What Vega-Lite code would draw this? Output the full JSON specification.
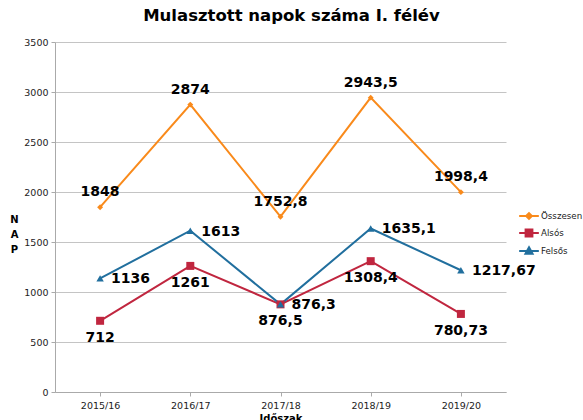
{
  "$schema": "https://vega.github.io/schema/vega-lite/v6.json",
  "width": 451,
  "height": 350,
  "autosize": {"type": "none"},
  "padding": {"left": 55, "top": 42, "right": 77, "bottom": 28},
  "background": "white",
  "config": {
    "view": {"stroke": null},
    "locale": {"number": {"decimal": ",", "thousands": "", "grouping": [3], "currency": ["", ""]}},
    "font": "DejaVu Sans"
  },
  "title": {
    "text": "Mulasztott napok száma I. félév",
    "font": "DejaVu Sans",
    "fontSize": 16.5,
    "fontWeight": "bold",
    "color": "#000000",
    "anchor": "middle",
    "dx": 11,
    "offset": 13
  },
  "data": {
    "values": [
      {"period": "2015/16", "series": "Összesen", "value": 1848},
      {"period": "2016/17", "series": "Összesen", "value": 2874},
      {"period": "2017/18", "series": "Összesen", "value": 1752.8},
      {"period": "2018/19", "series": "Összesen", "value": 2943.5},
      {"period": "2019/20", "series": "Összesen", "value": 1998.4},
      {"period": "2015/16", "series": "Alsós", "value": 712},
      {"period": "2016/17", "series": "Alsós", "value": 1261},
      {"period": "2017/18", "series": "Alsós", "value": 876.5},
      {"period": "2018/19", "series": "Alsós", "value": 1308.4},
      {"period": "2019/20", "series": "Alsós", "value": 780.73},
      {"period": "2015/16", "series": "Felsős", "value": 1136},
      {"period": "2016/17", "series": "Felsős", "value": 1613},
      {"period": "2017/18", "series": "Felsős", "value": 876.3},
      {"period": "2018/19", "series": "Felsős", "value": 1635.1},
      {"period": "2019/20", "series": "Felsős", "value": 1217.67}
    ]
  },
  "encoding": {
    "x": {
      "field": "period",
      "type": "nominal",
      "sort": null,
      "scale": {"paddingInner": 0, "paddingOuter": 0},
      "axis": {
        "title": "Időszak",
        "titleFont": "DejaVu Sans",
        "titleFontSize": 10,
        "titleFontWeight": "bold",
        "titleColor": "#000000",
        "titlePadding": 4,
        "labelAngle": 0,
        "labelFont": "DejaVu Sans",
        "labelFontSize": 9.5,
        "labelColor": "#222222",
        "labelPadding": 4,
        "bandPosition": 0,
        "tickSize": 4,
        "tickColor": "#aaaaaa",
        "domainColor": "#aaaaaa",
        "grid": false
      }
    },
    "y": {
      "field": "value",
      "type": "quantitative",
      "scale": {"domain": [0, 3500], "nice": false},
      "axis": {
        "values": [0, 500, 1000, 1500, 2000, 2500, 3000, 3500],
        "format": "d",
        "title": ["N", "A", "P"],
        "titleAngle": 0,
        "titleFont": "DejaVu Sans",
        "titleFontSize": 10,
        "titleFontWeight": "bold",
        "titleColor": "#000000",
        "titleLineHeight": 15,
        "titleX": -41,
        "titleY": 177,
        "titleAlign": "center",
        "titleBaseline": "middle",
        "labelFont": "DejaVu Sans",
        "labelFontSize": 9.5,
        "labelColor": "#222222",
        "labelPadding": 3,
        "tickSize": 4,
        "tickColor": "#aaaaaa",
        "domainColor": "#aaaaaa",
        "gridColor": "#c4c4c4",
        "gridWidth": 1
      }
    },
    "color": {
      "field": "series",
      "type": "nominal",
      "scale": {"domain": ["Összesen", "Alsós", "Felsős"], "range": ["#F98A1B", "#C0263F", "#216F9E"]},
      "legend": {
        "orient": "none",
        "legendX": 464,
        "legendY": 164,
        "title": null,
        "padding": 0,
        "symbolType": "M-1,0H1",
        "symbolSize": 320,
        "symbolStrokeWidth": 2,
        "labelFont": "DejaVu Sans",
        "labelFontSize": 8.7,
        "labelColor": "#222222",
        "labelOffset": 2,
        "rowPadding": 0,
        "encode": {
          "symbols": {
            "update": {
              "shape": {"signal": "datum.value === 'Összesen' ? 'M-1.1,0H1.1M-0.32,0L0,-0.32L0.32,0L0,0.32Z' : (datum.value === 'Alsós' ? 'M-1.1,0H1.1M-0.38,-0.38H0.38V0.38H-0.38Z' : 'M-1.1,0H1.1M0,-0.42L0.4,0.32H-0.4Z')"},
              "fill": {"signal": "scale('color', datum.value)"},
              "stroke": {"signal": "scale('color', datum.value)"},
              "strokeWidth": {"value": 2},
              "opacity": {"value": 1},
              "fillOpacity": {"value": 1}
            }
          }
        }
      }
    }
  },
  "layer": [
    {
      "mark": {"type": "line", "strokeWidth": 2}
    },
    {
      "transform": [{"filter": "datum.series === 'Összesen'"}],
      "mark": {"type": "point", "filled": true, "opacity": 1, "shape": "diamond", "size": 35}
    },
    {
      "transform": [{"filter": "datum.series === 'Alsós'"}],
      "mark": {"type": "point", "filled": true, "opacity": 1, "shape": "square", "size": 64}
    },
    {
      "transform": [{"filter": "datum.series === 'Felsős'"}],
      "mark": {"type": "point", "filled": true, "opacity": 1, "shape": "triangle-up", "size": 55}
    },
    {
      "transform": [{"filter": "datum.series === 'Összesen'"}],
      "mark": {"type": "text", "font": "DejaVu Sans", "fontSize": 14, "fontWeight": "bold", "dy": -15, "baseline": "middle", "align": "center"},
      "encoding": {"text": {"field": "value", "type": "quantitative", "format": "~g"}, "color": {"value": "#000000"}}
    },
    {
      "transform": [{"filter": "datum.series === 'Felsős'"}],
      "mark": {"type": "text", "font": "DejaVu Sans", "fontSize": 14, "fontWeight": "bold", "dx": 11, "dy": 1, "baseline": "middle", "align": "left"},
      "encoding": {"text": {"field": "value", "type": "quantitative", "format": "~g"}, "color": {"value": "#000000"}}
    },
    {
      "transform": [{"filter": "datum.series === 'Alsós'"}],
      "mark": {"type": "text", "font": "DejaVu Sans", "fontSize": 14, "fontWeight": "bold", "dy": 17, "baseline": "middle", "align": "center"},
      "encoding": {"text": {"field": "value", "type": "quantitative", "format": "~g"}, "color": {"value": "#000000"}}
    }
  ]
}
